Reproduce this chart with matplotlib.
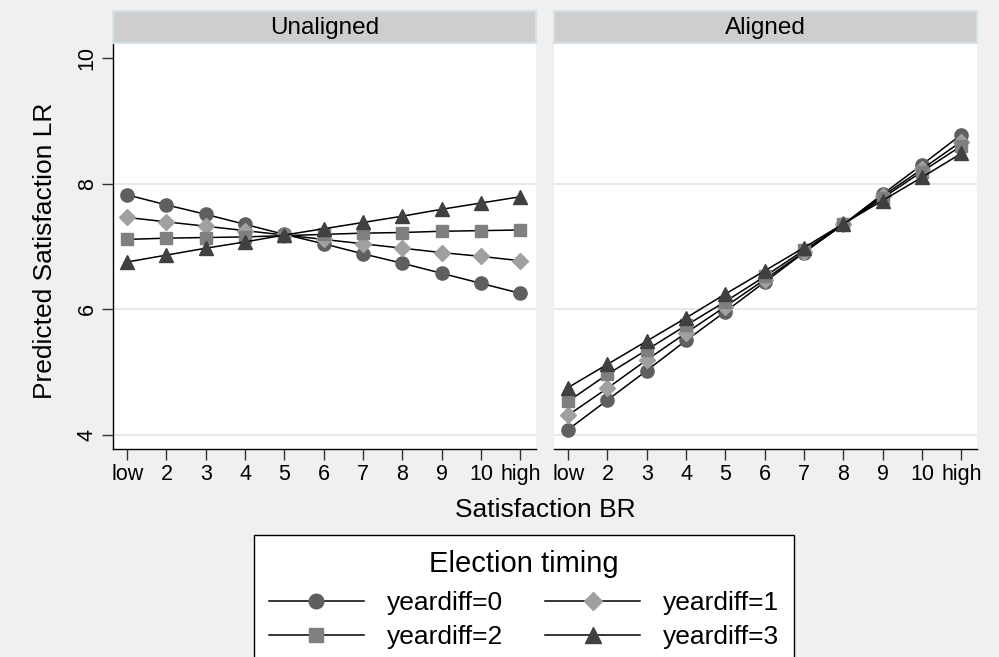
import matplotlib
matplotlib.use("Agg")
import matplotlib.pyplot as plt
from matplotlib.lines import Line2D

plt.rcParams['font.family'] = ['Liberation Sans', 'DejaVu Sans']

# satisfaction BR categories (x axis)
x_labels = ['low', '2', '3', '4', '5', '6', '7', '8', '9', '10', 'high']
panels = ['Unaligned', 'Aligned']
series = ['yeardiff=0', 'yeardiff=1', 'yeardiff=2', 'yeardiff=3']

# predicted satisfaction LR
unaligned = {
    'yeardiff=0': [7.82, 7.66, 7.51, 7.35, 7.19, 7.04, 6.88, 6.73, 6.57, 6.41, 6.25],
    'yeardiff=1': [7.46, 7.39, 7.32, 7.25, 7.18, 7.11, 7.04, 6.97, 6.90, 6.84, 6.77],
    'yeardiff=2': [7.11, 7.13, 7.14, 7.15, 7.17, 7.19, 7.21, 7.22, 7.24, 7.25, 7.26],
    'yeardiff=3': [6.75, 6.86, 6.97, 7.07, 7.18, 7.28, 7.38, 7.48, 7.59, 7.69, 7.79],
}
aligned = {
    'yeardiff=0': [4.08, 4.55, 5.02, 5.50, 5.96, 6.43, 6.90, 7.35, 7.83, 8.30, 8.78],
    'yeardiff=1': [4.31, 4.74, 5.19, 5.62, 6.04, 6.47, 6.91, 7.35, 7.80, 8.23, 8.67],
    'yeardiff=2': [4.53, 4.96, 5.35, 5.74, 6.12, 6.52, 6.94, 7.35, 7.77, 8.19, 8.60],
    'yeardiff=3': [4.75, 5.12, 5.49, 5.86, 6.24, 6.61, 6.98, 7.36, 7.73, 8.10, 8.48],
}
y_ticks = [4, 6, 8, 10]
grid_at = [4, 6, 8]

styles = {
    'yeardiff=0': dict(marker='o', color='#5f5f5f', ms=9.5),
    'yeardiff=1': dict(marker='D', color='#a0a0a0', ms=8.5),
    'yeardiff=2': dict(marker='s', color='#7f7f7f', ms=9),
    'yeardiff=3': dict(marker='^', color='#404040', ms=10),
}

W, H = 999, 657
fig = plt.figure(figsize=(W / 100, H / 100), dpi=100, facecolor='#f0f0f0')


def px(x0, y0, x1, y1):
    return [x0 / W, 1 - y1 / H, (x1 - x0) / W, (y1 - y0) / H]


xs = list(range(len(x_labels)))
lefts = [113, 554]
for i, (name, data) in enumerate(zip(panels, [unaligned, aligned])):
    x0 = lefts[i]
    ax = fig.add_axes(px(x0, 43, x0 + 423, 449))
    ax.set_facecolor('white')
    for g in grid_at:
        ax.axhline(g, color='#e6e6e6', lw=1.3, zorder=1)
    for s in series:
        st = styles[s]
        ax.plot(xs, data[s], color='black', lw=1.1, marker=st['marker'],
                ms=st['ms'], mfc=st['color'], mec=st['color'], zorder=3)
    ax.set_xlim(-0.36, 10.4)
    ax.set_ylim(3.77, 10.24)
    ax.set_yticks(y_ticks)
    ax.set_xticks(xs)
    ax.set_xticklabels(x_labels, fontsize=15.5)
    ax.tick_params(axis='x', length=8, width=1, color='#333333', pad=3)
    for sp in ['top', 'right']:
        ax.spines[sp].set_visible(False)
    ax.spines['bottom'].set_linewidth(1)
    if i == 0:
        ax.set_yticklabels([str(t) for t in y_ticks], fontsize=15.5,
                           rotation=90, va='center')
        ax.tick_params(axis='y', length=8, width=1, color='#333333', pad=3)
        ax.spines['left'].set_linewidth(1)
    else:
        ax.spines['left'].set_visible(False)
        ax.tick_params(axis='y', length=0, labelleft=False)

    # facet strip
    strip = fig.add_axes(px(x0, 11, x0 + 423, 43))
    strip.set_facecolor('#cecece')
    strip.set_xticks([])
    strip.set_yticks([])
    for sp in strip.spines.values():
        sp.set_color('#d6e2ea')
        sp.set_linewidth(1.5)
    strip.text(0.5, 0.48, name, ha='center', va='center', fontsize=17.5,
               transform=strip.transAxes)

fig.text(45 / W, 1 - 251 / H, 'Predicted Satisfaction LR', rotation=90,
         ha='center', va='center', fontsize=19)
fig.text(545 / W, 1 - 510 / H, 'Satisfaction BR', ha='center', va='center',
         fontsize=19)

# legend is filled row by row in the reference
order = ['yeardiff=0', 'yeardiff=2', 'yeardiff=1', 'yeardiff=3']
handles = [Line2D([], [], color='black', lw=1.1, marker=styles[s]['marker'],
                  ms=styles[s]['ms'] + 1, mfc=styles[s]['color'],
                  mec=styles[s]['color']) for s in order]
leg = fig.legend(handles, order, loc='upper center',
                 bbox_to_anchor=(524 / W, 1 - 535 / H), ncol=2,
                 title='Election timing', title_fontsize=21, fontsize=19,
                 frameon=True, fancybox=False, edgecolor='black',
                 facecolor='white', framealpha=1, handlelength=3.6,
                 columnspacing=1.6, handletextpad=0.87, labelspacing=0.36,
                 borderpad=0.55, borderaxespad=0)
leg._legend_box.sep = 10
leg.get_frame().set_linewidth(1)

fig.savefig('out.png', dpi=100, facecolor=fig.get_facecolor())
